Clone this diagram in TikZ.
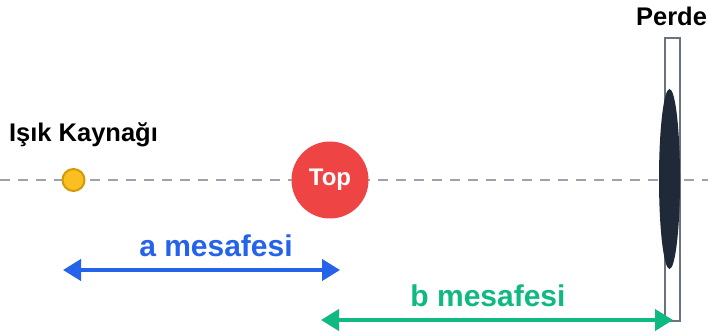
\documentclass[tikz,border=0pt]{standalone}
\usepackage{fontspec}
\setmainfont{Liberation Sans}
\usetikzlibrary{arrows.meta,shapes.geometric}
\definecolor{axisgray}{HTML}{9CA3AF}
\definecolor{srcfill}{HTML}{FBBF24}
\definecolor{srcdraw}{HTML}{D49A06}
\definecolor{topred}{HTML}{EF4444}
\definecolor{screengray}{HTML}{6B7280}
\definecolor{darkshadow}{HTML}{1F2937}
\definecolor{ablue}{HTML}{2563EB}
\definecolor{bgreen}{HTML}{10B981}
\tikzset{
  lbl/.style={font=\bfseries\fontsize{25.5}{30}\selectfont, text=black, inner sep=0pt, anchor=base},
  distlbl/.style={font=\bfseries\fontsize{30}{35}\selectfont, inner sep=0pt, anchor=base},
  dimarrow/.style={line width=4pt, {Triangle[length=18pt,width=21pt]}-{Triangle[length=18pt,width=21pt]}},
  axisline/.style={axisgray, line width=2.2pt, dash pattern=on 10pt off 8pt},
}
\begin{document}
\begin{tikzpicture}[x=1pt,y=-1pt]
\useasboundingbox (0,0) rectangle (708,336);
\fill[white] (0,0) rectangle (708,336);
% axis
\coordinate (axL) at (0,180);
\coordinate (axR) at (708,180);
\draw[axisline] (axL) -- (axR);
% light source
\node[circle, fill=srcfill, draw=srcdraw, line width=2pt, minimum size=22pt, inner sep=0pt] (src) at (73.5,180) {};
\node[lbl] (srclbl) at (83.5,142) {Işık Kaynağı};
% ball
\node[circle, fill=topred, minimum size=77pt, inner sep=0pt, text=white, font=\bfseries\fontsize{24}{28}\selectfont] (top) at (330,180) {Top};
% screen
\node[rectangle, draw=screengray, fill=white, line width=2pt, minimum width=15pt, minimum height=283pt, inner sep=0pt] (perde) at (672.5,179.5) {};
\node[ellipse, fill=darkshadow, minimum width=21pt, minimum height=180pt, inner sep=0pt] (shadow) at (669.5,179) {};
\node[lbl] (perdelbl) at (671.5,26) {Perde};
% distances
\coordinate (aL) at (63,270);
\coordinate (aR) at (340,270);
\draw[dimarrow, ablue] (aL) -- (aR);
\node[distlbl, text=ablue] (alab) at (216,256) {a mesafesi};
\coordinate (bL) at (321,320);
\coordinate (bR) at (673,320);
\draw[dimarrow, bgreen] (bL) -- (bR);
\node[distlbl, text=bgreen] (blab) at (488,306) {b mesafesi};
\end{tikzpicture}
\end{document}
